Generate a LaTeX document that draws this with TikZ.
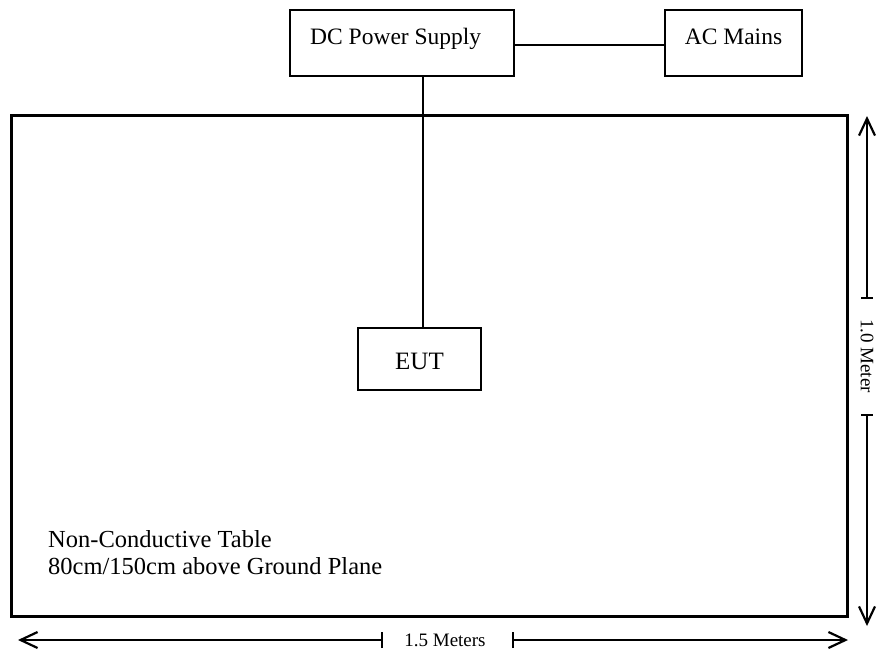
\documentclass[tikz,border=0pt]{standalone}
\usepackage{fontspec}
\setmainfont{Liberation Serif}
\usetikzlibrary{arrows.meta}
\begin{document}
\begin{tikzpicture}[x=1pt,y=-1pt,
  box/.style={draw,line width=1.4pt,inner sep=0pt},
  wire/.style={line width=1.2pt},
  dim/.style={line width=1.2pt},
  tip/.style={-{Straight Barb[length=17pt,width=16pt,line width=2.2pt]}},
  lbl/.style={font=\fontsize{23.5}{27}\selectfont,inner sep=0pt},
  dimlbl/.style={font=\fontsize{19}{22}\selectfont,inner sep=0pt}]
\useasboundingbox (0,0) rectangle (877,651);
% table
\draw[line width=3pt] (11,115) rectangle (847,616);
% boxes
\node[box,minimum width=224pt,minimum height=66pt] (dc) at (402,43) {};
\node[lbl,anchor=base west] (dct) at (310,44) {DC Power Supply};
\node[box,minimum width=137pt,minimum height=66pt] (ac) at (733.5,43) {};
\node[lbl,anchor=base] (act) at (733.5,44) {AC Mains};
\node[box,minimum width=123pt,minimum height=62pt] (eut) at (419.5,359) {};
\node[font=\fontsize{25}{28}\selectfont,inner sep=0pt,anchor=base] (eutt) at (419.5,369) {EUT};
% connectors
\coordinate (dcR) at (dc.east |- 0,45);
\coordinate (acL) at (ac.west |- 0,45);
\draw[wire] (dcR) -- (acL);
\coordinate (dcB) at (423,76);
\coordinate (eutT) at (423,328);
\draw[wire] (dcB) -- (eutT);
% table text
\node[lbl,font=\fontsize{24.5}{27}\selectfont,anchor=base west,align=left] (tab1) at (48,547) {Non-Conductive Table};
\node[lbl,font=\fontsize{24.5}{27}\selectfont,anchor=base west,align=left] (tab2) at (48,574) {80cm/150cm above Ground Plane};
% vertical dimension
\coordinate (vtop) at (867,116);
\coordinate (vt1) at (867,298);
\coordinate (vt2) at (867,415);
\coordinate (vbot) at (867,626);
\draw[dim,tip] (vt1) -- (vtop);
\draw[dim,tip] (vt2) -- (vbot);
\draw[dim] ([xshift=-6pt]vt1) -- ([xshift=6pt]vt1);
\draw[dim] ([xshift=-6pt]vt2) -- ([xshift=6pt]vt2);
\node[dimlbl,rotate=-90] (vl) at (867,356) {1.0 Meter};
% horizontal dimension
\coordinate (hl) at (18,640);
\coordinate (ht1) at (382,640);
\coordinate (ht2) at (513,640);
\coordinate (hr) at (848,640);
\draw[dim,tip] (ht1) -- (hl);
\draw[dim,tip] (ht2) -- (hr);
\draw[dim] ([yshift=-8pt]ht1) -- ([yshift=8pt]ht1);
\draw[dim] ([yshift=-8pt]ht2) -- ([yshift=8pt]ht2);
\node[dimlbl,anchor=base] (hlb) at (445,646) {1.5 Meters};
\end{tikzpicture}
\end{document}
